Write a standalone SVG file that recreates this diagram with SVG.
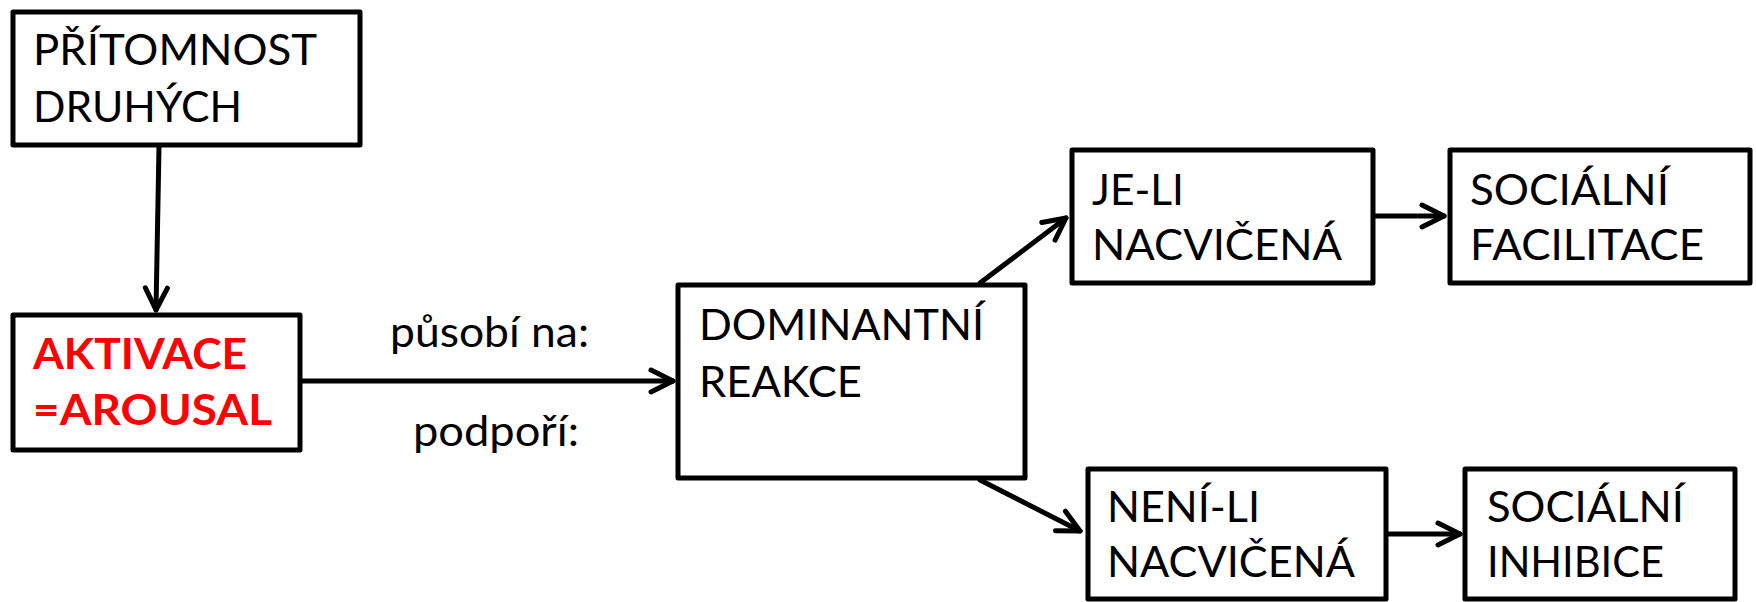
<svg xmlns="http://www.w3.org/2000/svg" width="1756" height="602" viewBox="0 0 1756 602">
  <style>
    .box { fill: #ffffff; stroke: #000000; stroke-width: 5; stroke-linejoin: round; }
    .lbl { font-family: Lato, "Open Sans", "Liberation Sans", sans-serif; font-size: 42px; fill: #000000; }
    .hot { font-weight: bold; fill: #ff0000; }
    .edge { fill: none; stroke: #000000; stroke-width: 5; stroke-linecap: round; }
  </style>
  <defs>
    <marker id="arrow" markerUnits="userSpaceOnUse" viewBox="-30 -15 34 30" refX="0" refY="0" markerWidth="34" markerHeight="30" orient="auto" overflow="visible">
      <path d="M -22 -11 L 0 0 L -22 11" fill="none" stroke="#000000" stroke-width="5" stroke-linecap="round" stroke-linejoin="round"/>
    </marker>
  </defs>

  <rect width="1756" height="602" fill="#ffffff"/>

  <g id="connectors">
    <path class="edge" d="M 159 147 L 156 310" marker-end="url(#arrow)"/>
    <path class="edge" d="M 302 381 L 673 381" marker-end="url(#arrow)"/>
    <path class="edge" d="M 980 283 L 1066 218" marker-end="url(#arrow)"/>
    <path class="edge" d="M 980 480 L 1080 531" marker-end="url(#arrow)"/>
    <path class="edge" d="M 1375 216 L 1444 216" marker-end="url(#arrow)"/>
    <path class="edge" d="M 1388 534 L 1460 534" marker-end="url(#arrow)"/>
  </g>

  <g id="edge-labels">
    <text class="lbl" x="390" y="347" textLength="199" lengthAdjust="spacingAndGlyphs">působí na:</text>
    <text class="lbl" x="413" y="446" textLength="166" lengthAdjust="spacingAndGlyphs">podpoří:</text>
  </g>

  <g id="node-pritomnost">
    <rect class="box" x="13" y="12" width="347" height="133"/>
    <text class="lbl" x="33" y="65" textLength="284" lengthAdjust="spacingAndGlyphs">PŘÍTOMNOST</text>
    <text class="lbl" x="33" y="122" textLength="209" lengthAdjust="spacingAndGlyphs">DRUHÝCH</text>
  </g>

  <g id="node-aktivace">
    <rect class="box" x="13" y="315" width="287" height="135"/>
    <text class="lbl hot" x="33" y="369" textLength="214" lengthAdjust="spacingAndGlyphs">AKTIVACE</text>
    <text class="lbl hot" x="33" y="425" textLength="239" lengthAdjust="spacingAndGlyphs">=AROUSAL</text>
  </g>

  <g id="node-dominantni">
    <rect class="box" x="678" y="285" width="347" height="193"/>
    <text class="lbl" x="699" y="340" textLength="285" lengthAdjust="spacingAndGlyphs">DOMINANTNÍ</text>
    <text class="lbl" x="699" y="397" textLength="163" lengthAdjust="spacingAndGlyphs">REAKCE</text>
  </g>

  <g id="node-je-li">
    <rect class="box" x="1072" y="150" width="301" height="133"/>
    <text class="lbl" x="1092" y="205" textLength="92" lengthAdjust="spacingAndGlyphs">JE-LI</text>
    <text class="lbl" x="1092" y="260" textLength="250" lengthAdjust="spacingAndGlyphs">NACVIČENÁ</text>
  </g>

  <g id="node-facilitace">
    <rect class="box" x="1450" y="150" width="300" height="133"/>
    <text class="lbl" x="1470" y="205" textLength="199" lengthAdjust="spacingAndGlyphs">SOCIÁLNÍ</text>
    <text class="lbl" x="1470" y="260" textLength="234" lengthAdjust="spacingAndGlyphs">FACILITACE</text>
  </g>

  <g id="node-neni-li">
    <rect class="box" x="1088" y="469" width="298" height="130"/>
    <text class="lbl" x="1107" y="522" textLength="153" lengthAdjust="spacingAndGlyphs">NENÍ-LI</text>
    <text class="lbl" x="1107" y="577" textLength="248" lengthAdjust="spacingAndGlyphs">NACVIČENÁ</text>
  </g>

  <g id="node-inhibice">
    <rect class="box" x="1465" y="469" width="270" height="130"/>
    <text class="lbl" x="1487" y="522" textLength="197" lengthAdjust="spacingAndGlyphs">SOCIÁLNÍ</text>
    <text class="lbl" x="1487" y="577" textLength="177" lengthAdjust="spacingAndGlyphs">INHIBICE</text>
  </g>
</svg>
